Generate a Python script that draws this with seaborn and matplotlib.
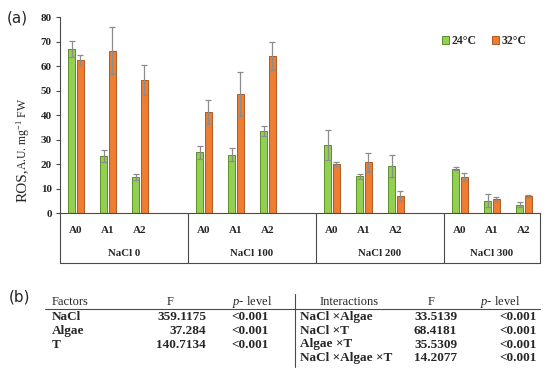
import matplotlib
matplotlib.use("Agg")
import matplotlib.pyplot as plt
import matplotlib.transforms as mtransforms
import matplotlib.colors as mcolors
import seaborn as sns
import pandas as pd
import numpy as np

# ---------------- data ----------------
groups = ["NaCl 0", "NaCl 100", "NaCl 200", "NaCl 300"]
algae = ["A0", "A1", "A2"]
temps = ["24°C", "32°C"]
ros_24 = [67.1, 23.4, 14.7, 24.9, 23.9, 33.6, 27.8, 15.2, 19.3, 18.2, 5.2, 3.5]
err_24 = [3.1, 2.5, 1.2, 2.6, 2.6, 2.0, 6.0, 1.0, 4.4, 0.5, 2.6, 1.1]
ros_32 = [62.6, 66.4, 54.4, 41.4, 48.8, 64.2, 20.3, 20.8, 7.1, 14.8, 5.9, 7.1]
err_32 = [2.0, 9.5, 6.3, 5.0, 9.0, 5.6, 0.8, 4.0, 2.0, 1.5, 0.9, 0.5]
y_ticks = [0, 10, 20, 30, 40, 50, 60, 70, 80]

factors = ["NaCl", "Algae", "T"]
factors_F = ["359.1175", "37.284", "140.7134"]
factors_p = ["<0.001", "<0.001", "<0.001"]
interactions = ["NaCl \u00d7Algae", "NaCl \u00d7T", "Algae \u00d7T", "NaCl \u00d7Algae \u00d7T"]
interactions_F = ["33.5139", "68.4181", "35.5309", "14.2077"]
interactions_p = ["<0.001", "<0.001", "<0.001", "<0.001"]

# ---------------- styling ----------------
sns.set_style("white")
plt.rcParams["font.family"] = ["Liberation Serif", "DejaVu Serif"]
plt.rcParams["mathtext.fontset"] = "custom"
plt.rcParams["mathtext.rm"] = "Liberation Serif"
plt.rcParams["mathtext.it"] = "Liberation Serif:italic"
plt.rcParams["mathtext.bf"] = "Liberation Serif:bold"

green = "#92D050"
orange = "#ED7D31"
green_edge = "#5E8E2E"
orange_edge = "#B05A22"
axis_col = "#4a4a4a"

# build long table with slot names (blank slot between groups)
rows = []
order = []
for gi, g in enumerate(groups):
    for ai, a in enumerate(algae):
        slot = f"{g}|{a}"
        order.append(slot)
        k = gi * 3 + ai
        rows.append({"slot": slot, "temp": temps[0], "ros": ros_24[k], "err": err_24[k]})
        rows.append({"slot": slot, "temp": temps[1], "ros": ros_32[k], "err": err_32[k]})
    if gi < len(groups) - 1:
        order.append(f"gap{gi}")
df = pd.DataFrame(rows)

W, H = 550, 373
fig = plt.figure(figsize=(W / 100, H / 100), dpi=100)
ax = fig.add_axes([60 / W, 1 - 213.3 / H, 480 / W, 196 / H])

sns.barplot(data=df, x="slot", y="ros", hue="temp", order=order, hue_order=temps,
            palette=[green, orange], width=0.56, gap=0.19, errorbar=None,
            linewidth=0.7, ax=ax, saturation=1)

edges = [green_edge, orange_edge]
fills = [np.array(mcolors.to_rgb(green)), np.array(mcolors.to_rgb(orange))]
for bar in list(ax.patches):
    if bar.get_height() <= 0:
        continue
    fc = np.array(bar.get_facecolor()[:3])
    ci = int(np.argmin([np.abs(fc - f).sum() for f in fills]))
    bar.set_edgecolor(edges[ci])
    xc = bar.get_x() + bar.get_width() / 2
    slot = order[int(round(xc))]
    sel = df[(df["temp"] == temps[ci]) & (df["slot"] == slot)]
    if len(sel) == 0:
        continue
    ax.errorbar(xc, bar.get_height(), yerr=float(sel["err"].iloc[0]), fmt="none",
                ecolor="#8c8c8c", elinewidth=0.9, capsize=2.2, capthick=0.9, zorder=3)

ax.set_xlim(-0.5, len(order) - 0.5)
ax.set_ylim(0, 80)
ax.set_yticks(y_ticks)
ax.set_yticklabels([str(t) for t in y_ticks], fontsize=8, fontweight="bold")
ax.set_xticks(range(len(order)))
ax.set_xticklabels([s.split("|")[1] if "|" in s else "" for s in order],
                   fontsize=8, fontweight="bold")
ax.tick_params(axis="x", length=0, pad=9)
ax.tick_params(axis="y", length=3, width=0.8, color=axis_col, pad=3, left=True)
ax.set_xlabel("")
ax.set_ylabel("")
for s in ["top", "right"]:
    ax.spines[s].set_visible(False)
for s in ["left", "bottom"]:
    ax.spines[s].set_color(axis_col)
    ax.spines[s].set_linewidth(0.8)

# category box under the axis
trans = mtransforms.blended_transform_factory(ax.transData, ax.transAxes)
box_bottom = -(263 - 213.3) / 196
edges_x = [-0.5, 3.5, 7.5, 11.5, len(order) - 0.5]
for xe in edges_x:
    ax.plot([xe, xe], [0, box_bottom], transform=trans, color=axis_col, lw=0.8, clip_on=False)
ax.plot([edges_x[0], edges_x[-1]], [box_bottom, box_bottom], transform=trans,
        color=axis_col, lw=0.8, clip_on=False)
for gi, g in enumerate(groups):
    xc = (edges_x[gi] + edges_x[gi + 1]) / 2
    ax.text(xc, -(254 - 213.3) / 196, g, transform=trans, ha="center", va="center",
            fontsize=7.8, fontweight="bold")

# legend
leg_old = ax.get_legend()
if leg_old is not None:
    leg_old.remove()
handles = [plt.Rectangle((0, 0), 1, 1, facecolor=f, edgecolor=e, lw=0.7)
           for f, e in zip([green, orange], edges)]
ax.legend(handles, temps, ncol=2, loc="upper right",
          bbox_to_anchor=((527 - 60) / 480, (213.3 - 35) / 196), frameon=False,
          handlelength=0.6, handleheight=0.6, handletextpad=0.25, columnspacing=1.3,
          borderpad=0, borderaxespad=0, prop={"size": 8.5, "weight": "bold"})

# y label (two sizes)
fig.text(22 / W, 1 - 202 / H, "ROS,", rotation=90, ha="center", va="bottom", fontsize=11)
fig.text(23 / W, 1 - 170 / H, "A.U. mg$^{-1}$ FW", rotation=90, ha="center", va="bottom",
         fontsize=8.5)

# panel labels
fig.text(7 / W, 1 - 18 / H, "(a)", ha="left", va="center", fontsize=11, family="DejaVu Sans")
fig.text(9 / W, 1 - 297 / H, "(b)", ha="left", va="center", fontsize=11, family="DejaVu Sans")

# ---------------- table (b) ----------------
def fx(px):
    return px / W

def fy(py):
    return 1 - py / H

hs = 9
ts = 9.5
header_y = 302
row_ys = [316.7, 331, 344.5, 358]
fig.text(fx(52), fy(header_y), "Factors", ha="left", va="center", fontsize=hs)
fig.text(fx(170), fy(header_y), "F", ha="center", va="center", fontsize=hs)
fig.text(fx(252), fy(header_y), "$\\it{p}$- level", ha="center", va="center", fontsize=hs)
for i in range(len(factors)):
    fig.text(fx(52), fy(row_ys[i]), factors[i], ha="left", va="center", fontsize=ts, fontweight="bold")
    fig.text(fx(206), fy(row_ys[i]), factors_F[i], ha="right", va="center", fontsize=ts, fontweight="bold")
    fig.text(fx(269), fy(row_ys[i]), factors_p[i], ha="right", va="center", fontsize=ts, fontweight="bold")

fig.text(fx(349), fy(header_y), "Interactions", ha="center", va="center", fontsize=hs)
fig.text(fx(431), fy(header_y), "F", ha="center", va="center", fontsize=hs)
fig.text(fx(500), fy(header_y), "$\\it{p}$- level", ha="center", va="center", fontsize=hs)
for i in range(len(interactions)):
    fig.text(fx(300), fy(row_ys[i]), interactions[i], ha="left", va="center", fontsize=ts, fontweight="bold")
    fig.text(fx(414), fy(row_ys[i]), interactions_F[i], ha="left", va="center", fontsize=ts, fontweight="bold")
    fig.text(fx(537), fy(row_ys[i]), interactions_p[i], ha="right", va="center", fontsize=ts, fontweight="bold")

fig.add_artist(plt.Line2D([fx(45), fx(540)], [fy(309), fy(309)], color=axis_col, lw=0.8))
fig.add_artist(plt.Line2D([fx(295), fx(295)], [fy(294), fy(367)], color=axis_col, lw=0.8))

fig.savefig("out.png", dpi=100)
